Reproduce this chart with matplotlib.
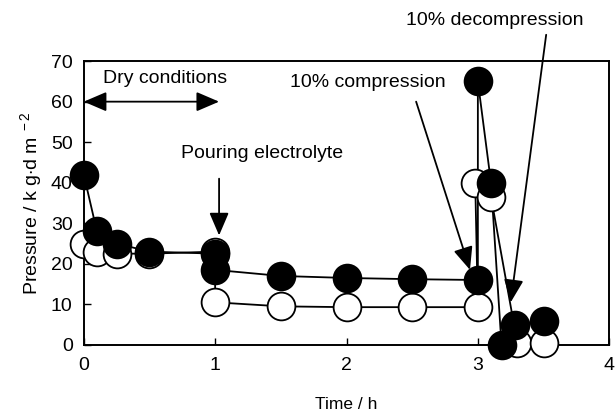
import matplotlib
matplotlib.use('Agg')
import matplotlib.pyplot as plt

plt.rcParams['font.family'] = ['Liberation Sans', 'DejaVu Sans']
plt.rcParams['mathtext.fontset'] = 'custom'
plt.rcParams['mathtext.rm'] = 'Liberation Sans'
plt.rcParams['mathtext.it'] = 'Liberation Sans'

# filled circles
t_filled = [0, 0.1, 0.25, 0.5, 1.0, 1.0, 1.5, 2.0, 2.5, 3.0, 3.0, 3.1, 3.18, 3.28, 3.5]
p_filled = [42, 28, 25, 23, 22.5, 18.5, 17, 16.5, 16.2, 16, 65, 40, 0, 5, 6]

# open circles
t_open = [0, 0.1, 0.25, 0.5, 1.0, 1.0, 1.5, 2.0, 2.5, 3.0, 2.98, 3.1, 3.3, 3.5]
p_open = [25, 23, 22.5, 22.5, 23, 10.5, 9.5, 9.3, 9.3, 9.3, 40, 36.5, 0.5, 0.5]

x_ticks = [0, 1, 2, 3, 4]
y_ticks = [0, 10, 20, 30, 40, 50, 60, 70]

fig = plt.figure(figsize=(6.16, 4.13), dpi=100)
ax = fig.add_axes([0.136, 0.165, 0.853, 0.687])

ax.plot(t_open, p_open, color='black', lw=1.3, zorder=2, clip_on=False)
ax.plot(t_filled, p_filled, color='black', lw=1.3, zorder=2, clip_on=False)
ax.plot(t_open, p_open, 'o', ms=20, mfc='white', mec='black', mew=1.3,
        zorder=3, clip_on=False)
ax.plot(t_filled, p_filled, 'o', ms=20, mfc='black', mec='black', mew=1.3,
        zorder=4, clip_on=False)

ax.set_xlim(0, 4)
ax.set_ylim(0, 70)
ax.set_xticks(x_ticks)
ax.set_yticks(y_ticks)
ax.tick_params(direction='in', length=5, width=1, labelsize=14, pad=9)
ax.tick_params(axis='y', pad=8)
for s in ax.spines.values():
    s.set_linewidth(1.4)

ax.set_xlabel('Time / h', fontsize=12.5, labelpad=16)
ax.set_ylabel(r'Pressure / k g$\cdot$d m$^{\ -2}$', fontsize=14, labelpad=5)

head = '-|>,head_length=0.7,head_width=0.3'
ax.annotate('', xy=(0.0, 60), xytext=(1.03, 60),
            arrowprops=dict(arrowstyle='<|-|>,head_length=0.7,head_width=0.3',
                            color='black', lw=1.3, mutation_scale=20,
                            shrinkA=0, shrinkB=0))
ax.text(0.62, 65.8, 'Dry conditions', fontsize=14, ha='center', va='center')

ax.text(1.36, 47.3, 'Pouring electrolyte', fontsize=14, ha='center', va='center')
ax.annotate('', xy=(1.03, 27), xytext=(1.03, 41),
            arrowprops=dict(arrowstyle=head, color='black', lw=1.3,
                            mutation_scale=20, shrinkA=0, shrinkB=0))

ax.text(2.16, 64.8, '10% compression', fontsize=14, ha='center', va='center')
ax.annotate('', xy=(2.94, 18.5), xytext=(2.53, 60),
            arrowprops=dict(arrowstyle=head, color='black', lw=1.3,
                            mutation_scale=20, shrinkA=0, shrinkB=0))

ax.text(3.13, 80, '10% decompression', fontsize=14, ha='center', va='center',
        clip_on=False)
ax.annotate('', xy=(3.25, 10.5), xytext=(3.52, 76.5),
            arrowprops=dict(arrowstyle=head, color='black', lw=1.3,
                            mutation_scale=20, shrinkA=0, shrinkB=0),
            annotation_clip=False)

fig.savefig('out.png', dpi=100)
